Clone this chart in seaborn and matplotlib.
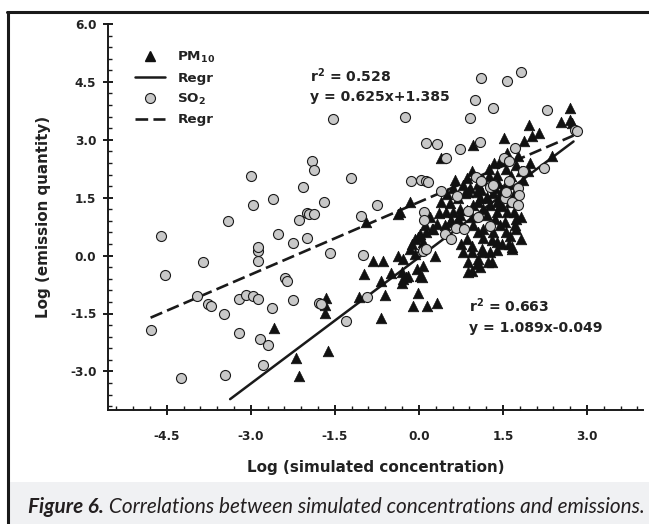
import numpy as np
import pandas as pd
import matplotlib
matplotlib.use("Agg")
import matplotlib.pyplot as plt
import seaborn as sns
from matplotlib.lines import Line2D
from matplotlib.patches import Rectangle
from matplotlib.ticker import MultipleLocator, FormatStrFormatter

sns.set_style("ticks")
plt.rcParams.update({
    "font.family": ["DejaVu Sans"],
    "font.weight": "bold",
    "axes.unicode_minus": False,
    "mathtext.fontset": "dejavusans",
})

# ---------------- data ----------------
pm10_x = [-2.59, -2.20, -2.14, -1.63, -1.65, -1.68, -1.68, -1.07, -0.61, -0.67,
          -0.98, -0.49, -0.68, -0.30, -0.82, -0.64, -0.38, -0.23, -0.04, 0.02,
          0.07, -0.01, -0.10, 0.14, 0.32, 0.29, -0.28, -0.31, -0.19, 0.05,
          -0.28, -0.16, -0.07,
          -0.13, -0.01, 0.13, 0.26, 0.46, 0.58, 0.73, 0.85, 0.97, 1.09,
          0.32, 0.23, 0.02, -0.07, 0.08, 0.05, 0.49, 0.61, 0.73, 0.55,
          0.70, 0.82, 0.91, 0.79, 1.03, 1.21, 1.27, 1.39, 1.21, 0.97,
          1.15, 1.33, 0.85, 0.76, 0.94, 1.12, 1.27, 1.39, 1.06, 0.88,
          1.09, 1.24, 0.79, 0.94, 1.15, 1.30, 1.03, 0.94, 0.88, 1.66,
          0.55, 0.70,
          -0.95, -0.38, -0.16, -0.34,
          0.96, 0.40, 2.70, 2.53, 2.70, 2.73, 1.97, 2.15, 2.01, 1.88,
          1.51, 2.37, 1.34, 1.57, 1.77, 1.74, 1.83, 0.85, 0.61, 0.88,
          1.39, 1.86, 1.51, 1.42, 1.49, 1.33, 1.21, 1.39, 1.49, 1.98,
          1.45, 1.57, 1.69, 1.83, 1.54, 1.71, 1.74, 1.63, 1.83, 1.66,
          1.48, 1.74, 1.63, 1.95,
          1.05, 1.15, 1.25, 1.10, 1.35, 1.45, 1.60, 1.65, 1.55, 1.70,
          1.35, 1.45, 1.55, 1.30, 1.40, 1.15, 1.05, 0.95, 1.15, 1.05,
          0.65, 0.50, 0.40, 0.35, 0.20, 0.10, 1.25, 1.45, 0.95, 1.60]
pm10_y = [-1.87, -2.65, -3.11, -2.48, -1.11, -1.29, -1.48, -1.07, -1.03, -1.61,
          -0.48, -0.45, -0.65, -0.70, -0.13, -0.13, 0.00, -0.56, -0.35, -0.52,
          -0.26, -0.96, -1.31, -1.31, -1.24, 0.00, -0.09, -0.43, -0.52, -0.56,
          -0.61, 0.17, 0.04,
          0.31, 0.48, 0.61, 0.70, 0.78, 0.91, 1.04, 1.18, 1.31, 1.48,
          0.83, 0.70, 0.57, 0.44, 0.35, 0.22, 1.13, 1.13, 1.22, 1.35,
          1.48, 1.61, 1.74, 1.83, 1.65, 1.52, 1.31, 1.13, 1.04, 0.78,
          0.70, 0.61, 0.44, 0.31, 0.26, 0.17, 0.09, 0.35, -0.09, -0.17,
          -0.30, -0.17, 0.09, 0.09, 0.09, -0.17, -0.22, -0.39, -0.43, 0.17,
          0.87, 0.96,
          0.88, 1.09, 1.39, 1.13,
          2.86, 2.52, 3.83, 3.46, 3.52, 3.44, 3.39, 3.18, 3.09, 2.98,
          3.05, 2.57, 2.39, 2.66, 2.57, 2.35, 2.18, 2.00, 1.74, 1.65,
          2.09, 1.96, 1.74, 1.87, 1.70, 1.61, 1.48, 1.39, 1.29, 2.39,
          1.31, 1.13, 1.13, 1.00, 0.87, 0.78, 0.70, 0.52, 0.44, 0.22,
          0.31, 0.96, 1.40, 2.20,
          1.85, 1.95, 2.05, 1.70, 1.75, 1.55, 1.85, 2.05, 2.25, 1.60,
          0.95, 0.80, 0.60, 0.40, 0.15, 0.45, 0.60, 1.00, 1.20, 1.40,
          1.95, 1.60, 1.40, 1.10, 1.00, 0.80, 2.25, 2.45, 2.20, 0.30]

so2_x = [-4.53, -3.85, -3.96, -3.76, -3.72, -3.48, -4.79, -4.24, -3.47, -3.21,
         -3.09, -2.96, -2.87, -2.63, -3.21, -2.84, -2.69, -2.78, -2.87, -2.87,
         -2.39, -2.35, -2.24, -1.78, -1.74, -1.30, -0.92, -1.59, -0.99, 0.08,
         -4.60, -3.40, -3.00, -2.96, -2.61, -2.07, -1.91, -1.87, -1.70, -2.14,
         -2.00, -1.96, -1.88, -2.51, -2.00, -2.24, -2.88, -1.54, -1.22, -0.74,
         -1.04, -0.25,
         1.11, 1.00, 1.33, 0.91, 0.13, 0.33, 0.73, 1.09, 0.49, 1.83,
         1.57, 2.28, 2.79, 2.82, 1.71, 2.24, 1.51, 1.60, 1.86, 1.02,
         1.11, 1.27, 1.33, 0.39, 1.61, 1.77, 1.79, 1.54, 1.66, 1.77,
         0.68, 0.88, 0.09, 0.09, 1.06, 1.27, 0.67, 0.81, 0.46, 0.58,
         0.13, -0.14, 0.04, 0.13, 0.17, 1.55]
so2_y = [-0.50, -0.16, -1.04, -1.26, -1.30, -1.52, -1.94, -3.17, -3.10, -1.13,
         -1.03, -1.04, -1.13, -1.37, -2.00, -2.17, -2.32, -2.83, -0.13, 0.13,
         -0.59, -0.65, -1.15, -1.22, -1.26, -1.70, -1.07, 0.06, 0.02, 0.13,
         0.50, 0.89, 2.07, 1.31, 1.47, 1.79, 2.45, 2.21, 1.38, 0.93,
         1.11, 1.09, 1.09, 0.57, 0.45, 0.32, 0.21, 3.54, 2.02, 1.32,
         1.03, 3.60,
         4.59, 4.03, 3.83, 3.57, 2.92, 2.89, 2.77, 2.94, 2.54, 4.76,
         4.53, 3.77, 3.26, 3.24, 2.79, 2.26, 2.52, 2.44, 2.18, 2.03,
         1.94, 1.79, 1.83, 1.67, 1.92, 1.74, 1.58, 1.48, 1.38, 1.31,
         1.55, 1.16, 1.13, 0.91, 1.00, 0.77, 0.72, 0.68, 0.57, 0.44,
         0.17, 1.92, 1.96, 1.92, 1.90, 1.65]

# regression equations shown on the chart and the x-span of each line
pm10_slope, pm10_intercept = 1.089, -0.049
pm10_fit_x = [-3.37, 2.76]
so2_slope, so2_intercept = 0.625, 1.385
so2_fit_x = [-4.79, 2.76]

legend_labels = ["PM$_\\mathbf{10}$", "Regr", "SO$_\\mathbf{2}$", "Regr"]
x_label = "Log (simulated concentration)"
y_label = "Log (emission quantity)"
caption_bold = "Figure 6."
caption_rest = " Correlations between simulated concentrations and emissions."

# ---------------- figure ----------------
W, H = 649, 524
fig = plt.figure(figsize=(W / 100, H / 100), dpi=100)
fig.patch.set_facecolor("white")

# caption band and outer frame
fig.add_artist(Rectangle((10 / W, 0), 1, 42 / H, transform=fig.transFigure,
                         facecolor="#f0f1f3", edgecolor="none", zorder=0))
fig.add_artist(Line2D([8 / W, 8 / W], [0, 1 - 12 / H], transform=fig.transFigure,
                      color="#1a1a1a", lw=2.2))
fig.add_artist(Line2D([8 / W - 0.002, 1], [1 - 12 / H, 1 - 12 / H], transform=fig.transFigure,
                      color="#1a1a1a", lw=2.2))

ax = fig.add_axes([108 / W, 1 - 410 / H, (643 - 108) / W, (410 - 24) / H])
ax.set_facecolor("white")

ink = "#1a1a1a"
pm_df = pd.DataFrame({"x": pm10_fit_x})
pm_df["y"] = pm10_slope * pm_df["x"] + pm10_intercept
so_df = pd.DataFrame({"x": so2_fit_x})
so_df["y"] = so2_slope * so_df["x"] + so2_intercept

sns.lineplot(data=pm_df, x="x", y="y", ax=ax, color=ink, lw=1.8, zorder=1)
sns.lineplot(data=so_df, x="x", y="y", ax=ax, color=ink, lw=1.9,
             linestyle=(0, (4.8, 2.0)), zorder=1)

sns.scatterplot(x=pm10_x, y=pm10_y, ax=ax, marker="^", s=58, color="#111111",
                edgecolor="#111111", linewidth=0.5, zorder=2)
sns.scatterplot(x=so2_x, y=so2_y, ax=ax, marker="o", s=52, color="#c8c8c8",
                edgecolor=ink, linewidth=0.8, zorder=3)

ax.set_xlim(-5.55, 4.0)
ax.set_ylim(-4.0, 6.0)
ax.xaxis.set_major_locator(MultipleLocator(1.5))
ax.yaxis.set_major_locator(MultipleLocator(1.5))
ax.xaxis.set_minor_locator(MultipleLocator(0.3))
ax.yaxis.set_minor_locator(MultipleLocator(0.3))
ax.xaxis.set_major_formatter(FormatStrFormatter("%.1f"))
ax.yaxis.set_major_formatter(FormatStrFormatter("%.1f"))

for side in ["top", "right"]:
    ax.spines[side].set_visible(False)
for side in ["left", "bottom"]:
    ax.spines[side].set_linewidth(1.4)
    ax.spines[side].set_color(ink)

ax.tick_params(which="major", direction="inout", length=7.5, width=1.4,
               color=ink, labelcolor="#222222", labelsize=8.7)
ax.tick_params(axis="x", which="major", pad=10.5)
ax.tick_params(axis="y", which="major", pad=4.6)
ax.tick_params(which="minor", direction="in", length=2.6, width=1.0, color=ink)
for lab in ax.get_xticklabels() + ax.get_yticklabels():
    lab.set_fontweight("bold")

ax.set_xlabel(x_label, fontsize=10.9, fontweight="bold", color="#222222")
ax.set_ylabel(y_label, fontsize=10.9, fontweight="bold", color="#222222")
ax.xaxis.set_label_coords(0.5, (410 - 460) / 386)
ax.yaxis.set_label_coords((51 - 108) / 535, 0.5)

# annotations
ax.text(-1.95, 4.50, "r$^\\mathbf{2}$ = 0.528", fontsize=10.1, fontweight="bold",
        color="#222222", va="baseline", ha="left")
ax.text(-1.95, 4.01, "y = 0.625x+1.385", fontsize=10.1, fontweight="bold",
        color="#222222", va="baseline", ha="left")
ax.text(0.90, -1.47, "r$^\\mathbf{2}$ = 0.663", fontsize=10.1, fontweight="bold",
        color="#222222", va="baseline", ha="left")
ax.text(0.90, -1.97, "y = 1.089x-0.049", fontsize=10.1, fontweight="bold",
        color="#222222", va="baseline", ha="left")

# legend
handles = [
    Line2D([], [], marker="^", linestyle="none", color="#111111", markersize=7.7),
    Line2D([], [], color=ink, lw=1.8),
    Line2D([], [], marker="o", linestyle="none", markerfacecolor="#c8c8c8",
           markeredgecolor=ink, markeredgewidth=0.8, markersize=7.2),
    Line2D([], [], color=ink, lw=1.9, linestyle=(0, (4.8, 2.0))),
]
leg = ax.legend(handles, legend_labels, loc="upper left",
                bbox_to_anchor=((135 - 108) / 535, (410 - 50) / 386),
                frameon=False, borderpad=0, borderaxespad=0,
                handlelength=2.25, handletextpad=0.9, labelspacing=0.5,
                prop={"size": 9.7, "weight": "bold"})
for t in leg.get_texts():
    t.set_color("#222222")

# caption
cap_fs = 12.0
t1 = fig.text(28 / W, 1 - 507 / H, caption_bold, fontsize=cap_fs, family="Lato",
              style="italic", weight="bold", color="#231f20", va="center", ha="left")
t2 = fig.text(0, 1 - 507 / H, caption_rest, fontsize=cap_fs, family="Lato",
              style="italic", weight="normal", color="#231f20", va="center", ha="left")
renderer = fig.canvas.get_renderer()
w1 = t1.get_window_extent(renderer).width
w2 = t2.get_window_extent(renderer).width
scale = (643 - 28) / (w1 + w2)
cap_fs *= scale
t1.set_fontsize(cap_fs)
t2.set_fontsize(cap_fs)
w1 = t1.get_window_extent(renderer).width
t2.set_x((28 + w1) / W)

fig.savefig("out.png", dpi=100, facecolor="white")
